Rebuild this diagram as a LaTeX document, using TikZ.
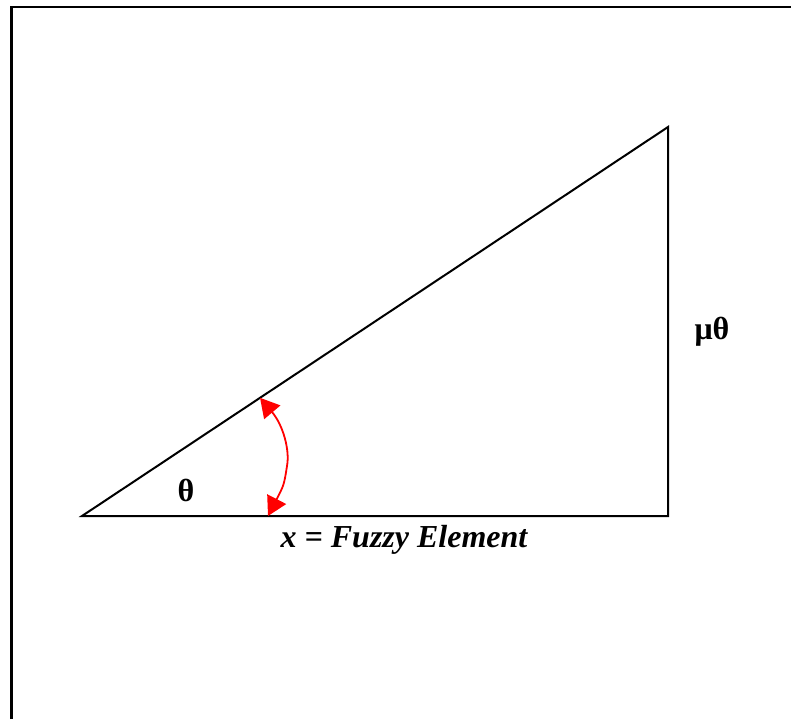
\documentclass[tikz,border=0pt]{standalone}
\usepackage{fontspec}
\setmainfont{Liberation Serif}
\usetikzlibrary{arrows.meta,calc}
\tikzset{
	frame/.style = {
		draw,
		line width=2.5pt
	},
	edge/.style = {
		draw,
		line width=2pt
	},
	angle/.style = {
		{Triangle[length=19pt,width=21pt]}-{Triangle[length=19pt,width=21pt]},
		red,
		line width=1.8pt
	},
	label/.style = {
		font=\fontsize{32}{38}\selectfont\bfseries,
		inner sep=0pt
	}
}
\begin{document}
\begin{tikzpicture}[x=1pt,y=-1pt]
		\useasboundingbox (0,0) rectangle (791,719);
		
		% --- Marco ---
		\draw[frame] (11.5,719) -- (11.5,7) -- (791,7);
		
		% --- Vertices del triangulo ---
		\coordinate (origin) at (82,516);
		\coordinate (corner) at (668,516);
		\coordinate (apex) at (668,127);
		
		% --- Triangulo ---
		\draw[edge] (origin) -- (corner) -- (apex) -- cycle;
		
		% --- Arco del angulo ---
		\coordinate (arcTop) at ($(origin)!0.3038!(apex)$);
		\coordinate (arcBottom) at (268,516);
		\draw[angle] (arcTop) .. controls (283,425) and (290,450) .. (287,466)
			.. controls (284,485) .. (arcBottom);
		
		% --- Etiquetas ---
		\node[label] (theta) at (186,490) {θ};
		\node[label] (mutheta) at (712,332) {μθ};
		\node[label, font=\fontsize{32}{38}\selectfont\bfseries\itshape] (element) at (404,540) {x = Fuzzy Element};
		
	\end{tikzpicture}
\end{document}
